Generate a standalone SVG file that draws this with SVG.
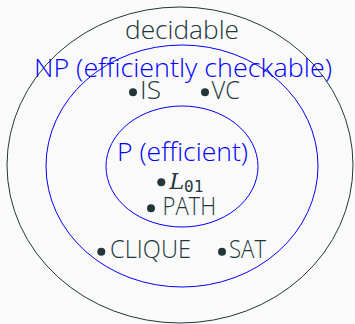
<svg xmlns="http://www.w3.org/2000/svg" width="355" height="324" viewBox="0 0 355 324">
<style>
.t{font-family:"Open Sans","Fira Sans","Liberation Sans",sans-serif;font-weight:300;font-size:26px;fill:#23373b}
.b{fill:#0000ff}
.set{fill:none;stroke-width:1}
.bul{fill:#23373b}
</style>
<rect width="355" height="324" fill="#fafafa"/>
<g id="decidable">
<ellipse class="set" cx="180" cy="165" rx="173" ry="158" stroke="#23373b"/>
<text class="t" x="125" y="39" textLength="114" lengthAdjust="spacingAndGlyphs">decidable</text>
</g>
<g id="NP">
<ellipse class="set" cx="182" cy="166" rx="136" ry="121" stroke="#0000ff"/>
<text class="t b" x="34" y="77" textLength="298" lengthAdjust="spacingAndGlyphs">NP (efficiently checkable)</text>
</g>
<g id="P">
<ellipse class="set" cx="182" cy="166.5" rx="76" ry="60.5" stroke="#0000ff"/>
<text class="t b" x="117" y="161" textLength="131" lengthAdjust="spacingAndGlyphs">P (efficient)</text>
</g>
<g id="IS">
<circle class="bul" cx="133" cy="92.3" r="4"/>
<text class="t" x="140" y="99" textLength="21" lengthAdjust="spacingAndGlyphs">IS</text>
</g>
<g id="VC">
<circle class="bul" cx="205" cy="92.3" r="4"/>
<text class="t" x="211.5" y="99" textLength="28.5" lengthAdjust="spacingAndGlyphs">VC</text>
</g>
<g id="L01">
<circle class="bul" cx="161.3" cy="182.3" r="4"/>
<text x="169.5" y="189" style="font-family:'DejaVu Serif','Liberation Serif',serif;font-style:italic;font-size:22px;fill:#23373b">L<tspan dy="3" style="font-family:'DejaVu Sans Mono','Liberation Mono',monospace;font-style:normal;font-size:16px">01</tspan></text>
</g>
<g id="PATH">
<circle class="bul" cx="151" cy="208.3" r="4"/>
<text class="t" x="162.5" y="215" textLength="53.5" lengthAdjust="spacingAndGlyphs">PATH</text>
</g>
<g id="CLIQUE">
<circle class="bul" cx="101.3" cy="251.7" r="4"/>
<text class="t" x="110" y="257.5" textLength="81" lengthAdjust="spacingAndGlyphs">CLIQUE</text>
</g>
<g id="SAT">
<circle class="bul" cx="222" cy="251.7" r="4"/>
<text class="t" x="229" y="257.5" textLength="37" lengthAdjust="spacingAndGlyphs">SAT</text>
</g>
<g id="connectors"/>
</svg>
